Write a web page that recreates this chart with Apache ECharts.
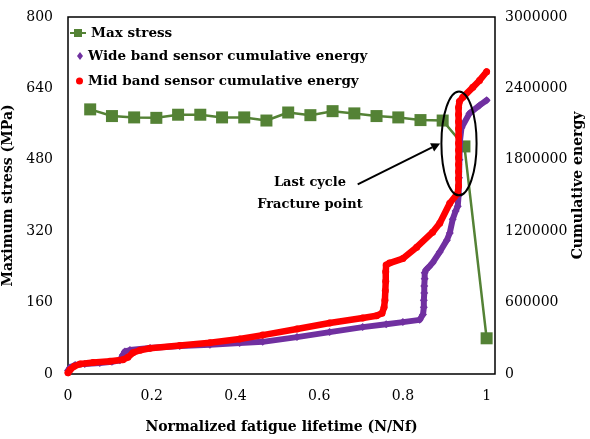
<!DOCTYPE html>
<html>
<head>
<meta charset="utf-8">
<script src="https://cdn.jsdelivr.net/npm/echarts@6/dist/echarts.min.js"></script>
<style>
  html, body { margin: 0; padding: 0; background: #fff; }
  #chart { width: 590px; height: 439px; }
</style>
</head>
<body>
<div id="chart"></div>
<script>
// Maximum stress per block (primary axis, MPa)
const stressX = [0.053, 0.105, 0.158, 0.211, 0.263, 0.316, 0.368, 0.421, 0.474, 0.526,
                 0.579, 0.632, 0.684, 0.737, 0.789, 0.842, 0.895, 0.947, 1.0];
const stressY = [593, 578, 575, 574, 581, 581, 575, 575, 568, 586,
                 580, 589, 584, 578, 575, 569, 568, 510, 80];

// Wide band sensor cumulative energy (secondary axis)
const wideX = [0.000, 0.005, 0.017, 0.040, 0.076, 0.105, 0.124, 0.131, 0.136, 0.148,
               0.196, 0.267, 0.339, 0.410, 0.465, 0.547, 0.625, 0.704, 0.760, 0.800,
               0.840, 0.848, 0.850, 0.850, 0.851, 0.851, 0.852, 0.852, 0.855, 0.862,
               0.871, 0.888, 0.905, 0.912, 0.919, 0.926, 0.931, 0.933, 0.934, 0.935,
               0.936, 0.940, 0.959, 0.983, 1.000];
const wideE = [30000, 55000, 75000, 85000, 92000, 102000, 115000, 160000, 190000, 201000,
               218000, 235000, 245000, 260000, 270000, 310000, 352000, 394000, 418000, 436000,
               455000, 500000, 560000, 620000, 680000, 740000, 800000, 850000, 875000, 900000,
               935000, 1025000, 1125000, 1185000, 1300000, 1370000, 1410000, 1500000, 1650000, 1800000,
               1950000, 2070000, 2190000, 2257000, 2300000];

// Mid band sensor cumulative energy (secondary axis)
const midX = [0.000, 0.005, 0.015, 0.029, 0.060, 0.100, 0.131, 0.143, 0.155, 0.172,
              0.196, 0.267, 0.339, 0.410, 0.465, 0.547, 0.625, 0.704, 0.737, 0.750,
              0.755, 0.757, 0.758, 0.759, 0.759, 0.760, 0.768, 0.800, 0.833, 0.871,
              0.888, 0.912, 0.931, 0.933, 0.933, 0.933, 0.933, 0.933, 0.933, 0.933,
              0.933, 0.933, 0.933, 0.933, 0.933, 0.935, 0.943, 0.967, 0.983, 1.000];
const midE = [10000, 35000, 65000, 84000, 97000, 108000, 120000, 140000, 178000, 200000,
              216000, 240000, 262000, 294000, 327000, 378000, 428000, 470000, 490000, 510000,
              560000, 620000, 700000, 780000, 860000, 915000, 932000, 970000, 1066000, 1192000,
              1267000, 1435000, 1519000, 1580000, 1640000, 1700000, 1760000, 1820000, 1880000, 1940000,
              2000000, 2060000, 2120000, 2180000, 2240000, 2290000, 2325000, 2409000, 2467000, 2540000];

// Axis ticks
const xTicks = [0, 0.2, 0.4, 0.6, 0.8, 1];
const stressTicks = [0, 160, 320, 480, 640, 800];
const energyTicks = [0, 600000, 1200000, 1800000, 2400000, 3000000];

const seriesNames = ['Max stress', 'Wide band sensor cumulative energy', 'Mid band sensor cumulative energy'];
const annotationLines = ['Last cycle', 'Fracture point'];

const zip = (xs, ys) => xs.map((x, i) => [x, ys[i]]);
const SERIF = '"DejaVu Serif", "Liberation Serif", serif';
const GREEN = '#548235', PURPLE = '#7030A0', RED = '#FF0000';

const chart = echarts.init(document.getElementById('chart'), null, { renderer: 'canvas' });

const legendText = { fontFamily: SERIF, fontWeight: 'bold', fontSize: 13.5, color: '#000' };

chart.setOption({
  animation: false,
  backgroundColor: '#fff',
  grid: {
    left: 68, top: 17, width: 427, height: 357,
    outerBoundsMode: 'none', containLabel: false,
    show: true, borderColor: '#000', borderWidth: 1.5, backgroundColor: 'transparent'
  },
  legend: [
    { data: [seriesNames[0]], left: 69, top: 26, padding: 0, itemWidth: 16, itemHeight: 10,
      selectedMode: false, textStyle: legendText },
    { data: [{ name: seriesNames[1], icon: 'diamond' }], left: 77, top: 49, padding: 0, itemWidth: 6, itemHeight: 8,
      selectedMode: false, textStyle: legendText },
    { data: [{ name: seriesNames[2], icon: 'circle' }], left: 76, top: 74, padding: 0, itemWidth: 7, itemHeight: 7,
      selectedMode: false, textStyle: legendText }
  ],
  xAxis: {
    type: 'value', min: 0, max: 1.02, interval: 0.2,
    name: 'Normalized fatigue lifetime (N/Nf)', nameLocation: 'middle', nameGap: 46,
    nameTextStyle: { fontFamily: SERIF, fontWeight: 'bold', fontSize: 14, color: '#000' },
    axisLine: { show: false }, axisTick: { show: false }, splitLine: { show: false },
    axisLabel: {
      margin: 15, fontFamily: SERIF, fontSize: 14, color: '#000',
      formatter: v => {
        const t = xTicks.find(k => Math.abs(k - v) < 1e-6);
        return t === undefined ? '' : String(t);
      }
    }
  },
  yAxis: [
    {
      type: 'value', position: 'left', min: stressTicks[0], max: stressTicks[stressTicks.length - 1], interval: 160,
      name: 'Maximum stress (MPa)', nameLocation: 'middle', nameGap: 42,
      nameTextStyle: { fontFamily: SERIF, fontWeight: 'bold', fontSize: 14, color: '#000' },
      axisLine: { show: false }, axisTick: { show: false }, splitLine: { show: false },
      axisLabel: { margin: 15, fontFamily: SERIF, fontSize: 14, color: '#000' }
    },
    {
      type: 'value', position: 'right', min: energyTicks[0], max: energyTicks[energyTicks.length - 1], interval: 600000,
      name: 'Cumulative energy', nameLocation: 'middle', nameGap: 76, nameMoveOverlap: false,
      nameTextStyle: { fontFamily: SERIF, fontWeight: 'bold', fontSize: 14, color: '#000', padding: [0, 0, 0, 20] },
      axisLine: { show: false }, axisTick: { show: false }, splitLine: { show: false },
      axisLabel: { margin: 10, fontFamily: SERIF, fontSize: 14, color: '#000', formatter: v => String(v) }
    }
  ],
  series: [
    {
      name: seriesNames[0], type: 'line', yAxisIndex: 0, z: 2,
      data: zip(stressX, stressY),
      symbol: 'rect', symbolSize: 12,
      itemStyle: { color: GREEN },
      lineStyle: { color: GREEN, width: 2.5 }
    },
    {
      name: seriesNames[1], type: 'line', yAxisIndex: 1, z: 3,
      data: zip(wideX, wideE),
      symbol: 'diamond', symbolSize: 8, showAllSymbol: true,
      itemStyle: { color: PURPLE },
      lineStyle: { color: PURPLE, width: 6, cap: 'round', join: 'round' }
    },
    {
      name: seriesNames[2], type: 'line', yAxisIndex: 1, z: 4,
      data: zip(midX, midE),
      symbol: 'circle', symbolSize: 7, showAllSymbol: true,
      itemStyle: { color: RED },
      lineStyle: { color: RED, width: 6.5, cap: 'round', join: 'round' }
    }
  ]
});

// Annotation: ellipse around the final cycles, arrow and caption, placed in data coordinates
const px = (x, e) => chart.convertToPixel({ xAxisIndex: 0, yAxisIndex: 1 }, [x, e]);
const c = px(0.934, 1938000);
const cr = px(0.934 + 0.042, 1938000 - 436000);
const rx = cr[0] - c[0], ry = cr[1] - c[1];
const a0 = px(0.692, 1594000), a1 = px(0.889, 1938000);
const ang = Math.atan2(a1[1] - a0[1], a1[0] - a0[0]);
const head = 9, wing = 4.5;
const hb = [a1[0] - head * Math.cos(ang), a1[1] - head * Math.sin(ang)];
const p1 = [hb[0] + wing * Math.sin(ang), hb[1] - wing * Math.cos(ang)];
const p2 = [hb[0] - wing * Math.sin(ang), hb[1] + wing * Math.cos(ang)];
const tc = px(0.578, 1515000);

chart.setOption({
  graphic: [
    { type: 'ellipse', z: 100, shape: { cx: c[0], cy: c[1], rx: rx, ry: ry },
      style: { fill: 'none', stroke: '#000', lineWidth: 2 } },
    { type: 'line', z: 100, shape: { x1: a0[0], y1: a0[1], x2: hb[0], y2: hb[1] },
      style: { stroke: '#000', lineWidth: 2 } },
    { type: 'polygon', z: 100, shape: { points: [a1, p1, p2] }, style: { fill: '#000' } },
    { type: 'text', z: 100, x: tc[0], y: tc[1],
      style: { text: annotationLines.join('\n'), fontFamily: SERIF, fontWeight: 'bold', fontSize: 13,
               lineHeight: 22, fill: '#000', align: 'center', verticalAlign: 'middle' } }
  ]
});
</script>
</body>
</html>
